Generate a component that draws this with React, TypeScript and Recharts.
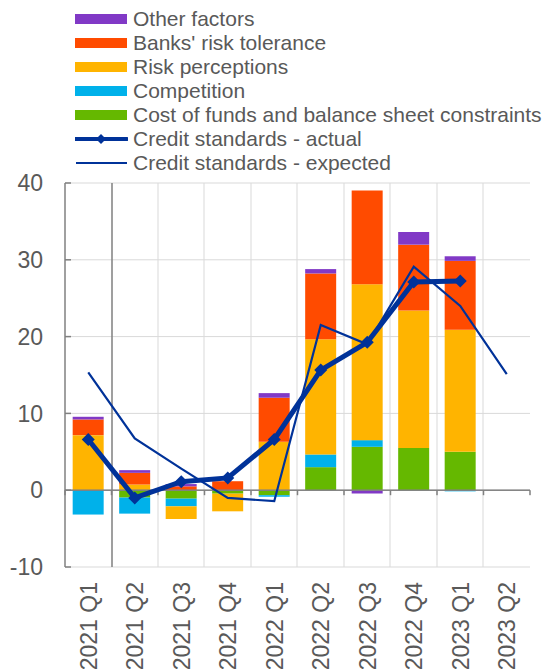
import React from 'react';
import {
  ComposedChart,
  Bar,
  Line,
  XAxis,
  YAxis,
  CartesianGrid,
  ReferenceLine,
  Legend,
} from 'recharts';

// quarters on the x axis
const quarters = [
  '2021 Q1',
  '2021 Q2',
  '2021 Q3',
  '2021 Q4',
  '2022 Q1',
  '2022 Q2',
  '2022 Q3',
  '2022 Q4',
  '2023 Q1',
  '2023 Q2',
];

// contributing factors (net percentages)
const costOfFunds = [0, -0.96, -1.1, -0.45, -0.65, 3.0, 5.65, 5.5, 5.0, null];
const competition = [-3.17, -2.09, -1.0, 0, -0.2, 1.65, 0.87, 0, -0.15, null];
const riskPerceptions = [7.17, 0.74, -1.65, -2.3, 6.3, 15.0, 20.3, 17.9, 15.9, null];
const riskTolerance = [2.04, 1.52, 0.5, 1.17, 5.74, 8.57, 12.2, 8.57, 8.96, null];
const otherFactors = [0.35, 0.35, 0.3, 0, 0.6, 0.57, -0.43, 1.65, 0.6, null];

// credit standards
const actual = [6.6, -1.0, 1.1, 1.6, 6.6, 15.65, 19.25, 27.1, 27.25, null];
const expected = [15.35, 6.74, 2.8, -1.0, -1.43, 21.5, 19.0, 29.1, 24.0, 15.1];

const yTicks = [-10, 0, 10, 20, 30, 40];

const FONT = "Arial, 'Liberation Sans', sans-serif";
const TEXT = '#595959';
const BLUE = '#003299';
const GRID = '#d9d9d9';
const AXIS = '#808080';
const CATEGORY_GAP = 0.165;

const barSeries = [
  { key: 'cost', name: 'Cost of funds and balance sheet constraints', color: '#65b800' },
  { key: 'competition', name: 'Competition', color: '#00b1ea' },
  { key: 'perceptions', name: 'Risk perceptions', color: '#ffb400' },
  { key: 'tolerance', name: "Banks' risk tolerance", color: '#ff4b00' },
  { key: 'other', name: 'Other factors', color: '#8139c6' },
];

const data = quarters.map((q, i) => ({
  quarter: q,
  cost: costOfFunds[i],
  competition: competition[i],
  perceptions: riskPerceptions[i],
  tolerance: riskTolerance[i],
  other: otherFactors[i],
  actual: actual[i],
  expected: expected[i],
}));

const Diamond = (props: any) => {
  const { cx, cy, value, index } = props;
  if (cx == null || cy == null || value == null) return <g key={`d-${index}`} />;
  const r = 6.5;
  return (
    <polygon
      key={`d-${index}`}
      points={`${cx},${cy - r} ${cx + r},${cy} ${cx},${cy + r} ${cx - r},${cy}`}
      fill={BLUE}
    />
  );
};

const QuarterTick = (props: any) => {
  const { x, y, payload } = props;
  return (
    <g transform={`translate(${x},${y})`}>
      <text
        transform="rotate(-90)"
        x={-15}
        y={0}
        dy="0.36em"
        textAnchor="end"
        fill={TEXT}
        fontSize={23}
        fontFamily={FONT}
      >
        {payload.value}
      </text>
    </g>
  );
};

// bar background used as the vertical grid: a line on each category boundary
const GridColumn = (props: any) => {
  const { x, y, width, height, index } = props;
  if ([x, y, width, height].some((v) => v == null || Number.isNaN(v))) return <g key={`bg-${index}`} />;
  const band = width / (1 - 2 * CATEGORY_GAP);
  const centre = x + width / 2;
  const left = Math.round(centre - band / 2);
  const right = Math.round(centre + band / 2);
  return (
    <g key={`bg-${index}`}>
      {index === 0 && <rect x={left - 0.75} y={y} width={1.5} height={height} fill={AXIS} />}
      <rect x={right - 0.5} y={y} width={1} height={height} fill={GRID} />
      {index === quarters.length - 2 && (
        <rect x={Math.round(centre + band * 1.5) - 0.5} y={y} width={1} height={height} fill={GRID} />
      )}
    </g>
  );
};

// zero line with small tick marks at the category boundaries
const ZeroLine = (props: any) => {
  const { x1, y1, x2 } = props;
  const n = quarters.length;
  const marks = Array.from({ length: n + 1 }, (_, i) => x1 + ((x2 - x1) * i) / n);
  return (
    <g>
      <rect x={x1} y={y1 - 0.75} width={x2 - x1} height={1.5} fill={AXIS} />
      {marks.map((mx, i) => (
        <rect key={i} x={mx - 0.75} y={y1} width={1.5} height={5} fill={AXIS} />
      ))}
    </g>
  );
};

const legendRows = [
  ...[...barSeries].reverse().map((s) => ({ name: s.name, color: s.color, kind: 'bar' })),
  { name: 'Credit standards - actual', color: BLUE, kind: 'actual' },
  { name: 'Credit standards - expected', color: BLUE, kind: 'expected' },
];

const LegendContent = () => (
  <div style={{ fontFamily: FONT, fontSize: 21, color: TEXT }}>
    {legendRows.map((row) => (
      <div key={row.name} style={{ display: 'flex', alignItems: 'center', height: 24 }}>
        <svg width={53} height={24}>
          {row.kind === 'bar' && <rect x={0} y={7} width={52} height={10} fill={row.color} />}
          {row.kind === 'actual' && (
            <g>
              <line x1={0} x2={52} y1={12} y2={12} stroke={row.color} strokeWidth={4} strokeLinecap="round" />
              <polygon points="26,7 31,12 26,17 21,12" fill={row.color} />
            </g>
          )}
          {row.kind === 'expected' && (
            <line x1={1} x2={52} y1={12} y2={12} stroke={row.color} strokeWidth={2} />
          )}
        </svg>
        <span style={{ marginLeft: 5, whiteSpace: 'nowrap', lineHeight: '24px' }}>{row.name}</span>
      </div>
    ))}
  </div>
);

export default function App() {
  return (
    <div style={{ position: 'absolute', left: 0, top: 0, width: 550, height: 671, background: '#fff' }}>
      <ComposedChart
        width={550}
        height={671}
        data={data}
        stackOffset="sign"
        barCategoryGap={`${CATEGORY_GAP * 100}%`}
        margin={{ top: 183, right: 20, bottom: 0, left: 0 }}
      >
        <CartesianGrid vertical={false} stroke={GRID} strokeWidth={1} />
        <XAxis
          dataKey="quarter"
          interval={0}
          axisLine={false}
          tickLine={false}
          tickSize={0}
          tickMargin={0}
          height={104}
          tick={<QuarterTick />}
        />
        <YAxis
          domain={[-10, 40]}
          ticks={yTicks}
          interval={0}
          width={65}
          axisLine={{ stroke: AXIS, strokeWidth: 1.5 }}
          tickLine={{ stroke: AXIS, strokeWidth: 1.5 }}
          tickSize={-6}
          tickMargin={28}
          tick={{ fill: TEXT, fontSize: 23, fontFamily: FONT }}
        />
        <Legend
          layout="vertical"
          align="center"
          verticalAlign="middle"
          wrapperStyle={{ top: 7, left: 75, width: 475 }}
          content={<LegendContent />}
        />
        {barSeries.map((s, i) => (
          <Bar
            key={s.key}
            dataKey={s.key}
            name={s.name}
            stackId="factors"
            fill={s.color}
            background={i === 0 ? (props: any) => <GridColumn {...props} /> : undefined}
            isAnimationActive={false}
          />
        ))}
        <ReferenceLine y={0} stroke={AXIS} shape={<ZeroLine />} />
        <Line
          type="linear"
          dataKey="expected"
          name="Credit standards - expected"
          stroke={BLUE}
          strokeWidth={2.2}
          dot={false}
          activeDot={false}
          isAnimationActive={false}
        />
        <Line
          type="linear"
          dataKey="actual"
          name="Credit standards - actual"
          stroke={BLUE}
          strokeWidth={5}
          dot={<Diamond />}
          activeDot={false}
          isAnimationActive={false}
        />
      </ComposedChart>
    </div>
  );
}
